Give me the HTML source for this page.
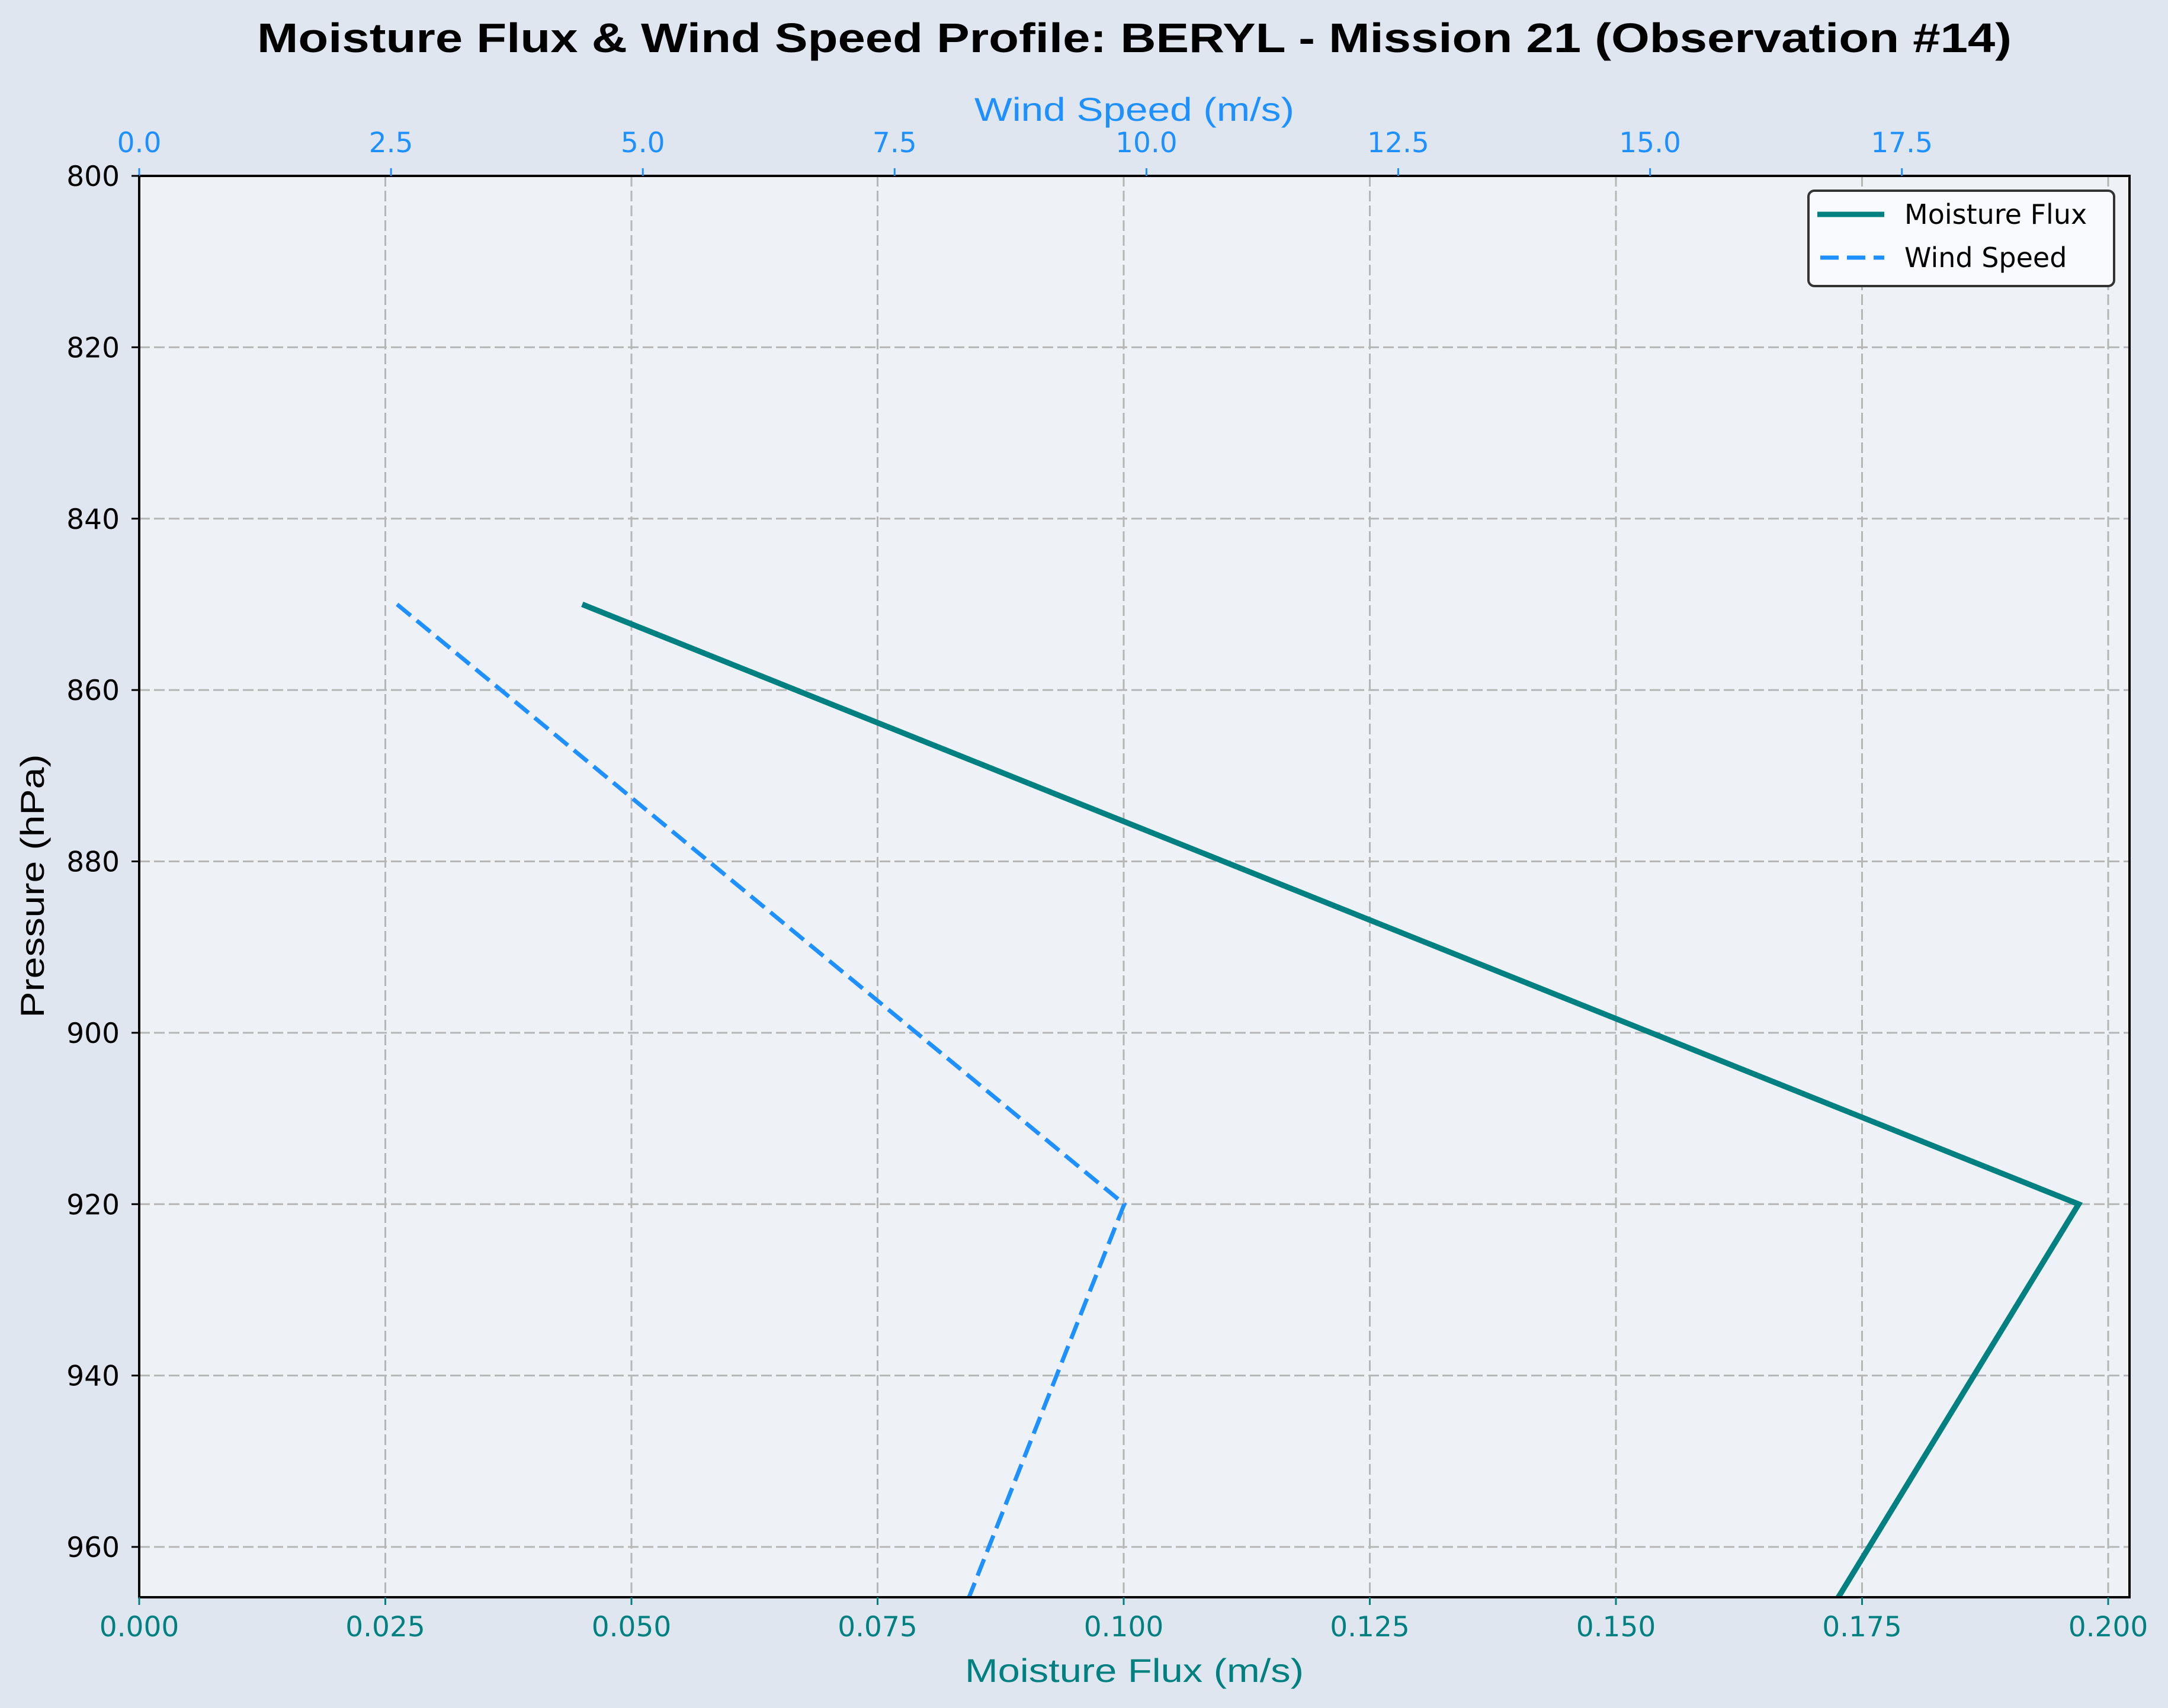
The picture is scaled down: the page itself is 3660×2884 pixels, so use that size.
<!DOCTYPE html>
<html><head><meta charset="utf-8"><style>
html,body{margin:0;padding:0;background:#dfe6f0;}
svg{display:block;}
.dv{font-family:"DejaVu Sans","Liberation Sans",sans-serif;}
.ls{font-family:"Liberation Sans",Arial,sans-serif;}
</style></head><body>
<svg id="chart" width="3660" height="2884" viewBox="0 0 3660 2884" xmlns="http://www.w3.org/2000/svg">
<rect x="0" y="0" width="3660" height="2884" fill="#dfe6f0"/>
<rect x="235" y="297" width="3360" height="2400" fill="#eef2f7"/>
<g id="grid"></g>
<g id="series"></g>
<rect x="235" y="297" width="3360" height="2400" fill="none" stroke="#000" stroke-width="4"/>
<g id="ticks"></g>
<text class="ls" x="1915" y="88" text-anchor="middle" font-weight="bold" font-size="70" textLength="2962" lengthAdjust="spacingAndGlyphs">Moisture Flux &amp; Wind Speed Profile: BERYL - Mission 21 (Observation #14)</text>
<text class="ls" x="1915" y="204" text-anchor="middle" font-size="56" fill="#1e90ff" textLength="540" lengthAdjust="spacingAndGlyphs">Wind Speed (m/s)</text>
<text class="ls" x="1915" y="2840" text-anchor="middle" font-size="56" fill="#008080" textLength="572" lengthAdjust="spacingAndGlyphs">Moisture Flux (m/s)</text>
<text class="ls" x="0" y="0" transform="translate(74,1496) rotate(-90)" text-anchor="middle" font-size="56" fill="#000" textLength="445" lengthAdjust="spacingAndGlyphs">Pressure (hPa)</text>
<g>
<rect x="3053" y="322" width="516" height="161" rx="10" fill="#f8fafd" stroke="#333" stroke-width="4"/>
<line x1="3068" y1="362" x2="3181" y2="362" stroke="#008080" stroke-width="9"/>
<text class="dv" x="3215" y="378" font-size="46">Moisture Flux</text>
<line x1="3073" y1="435" x2="3181" y2="435" stroke="#1e90ff" stroke-width="7" stroke-dasharray="31,14"/>
<text class="dv" x="3215" y="451" font-size="46">Wind Speed</text>
</g>
</svg>
<script>
const pressure = [850, 920, 970];
const moistureFlux = [0.045, 0.197, 0.1704];
const windSpeed = [2.56, 9.78, 8.1];
const fluxTicks = [0, 0.025, 0.05, 0.075, 0.1, 0.125, 0.15, 0.175, 0.2];
const fluxTickLabels = ["0.000","0.025","0.050","0.075","0.100","0.125","0.150","0.175","0.200"];
const windTicks = [0, 2.5, 5, 7.5, 10, 12.5, 15, 17.5];
const windTickLabels = ["0.0","2.5","5.0","7.5","10.0","12.5","15.0","17.5"];
const pTicks = [800, 820, 840, 860, 880, 900, 920, 940, 960];

const L=235, R=3595, T=297, B=2697;
const fluxMax = 0.2 * (R-L)/(3559-L);
const windMax = 19.76;
const pMin = 800, pMax = 800 + (B-T)/((2612-T)/160);
function xF(v){return L + v/fluxMax*(R-L);}
function xW(v){return L + v/windMax*(R-L);}
function yP(p){return T + (p-pMin)/(pMax-pMin)*(B-T);}
const NS="http://www.w3.org/2000/svg";
function mk(tag, attrs, parent, txt){const e=document.createElementNS(NS,tag);for(const k in attrs)e.setAttribute(k,attrs[k]);if(txt!==undefined)e.textContent=txt;parent.appendChild(e);return e;}
const svg=document.getElementById('chart');
const grid=document.getElementById('grid'), ticks=document.getElementById('ticks'), series=document.getElementById('series');
fluxTicks.forEach((v,i)=>{
  const x=xF(v);
  const g=mk('line',{x1:x,y1:T,x2:x,y2:B,stroke:'#b6b6b6','stroke-width':3,'stroke-dasharray':'18,7'},grid);
  
  
  const t=mk('line',{x1:x,y1:B,x2:x,y2:B+13,stroke:'#008080','stroke-width':3},ticks);
  
  
  const l=mk('text',{class:'dv',x:x,y:2763,'text-anchor':'middle','font-size':47,fill:'#008080'},ticks,fluxTickLabels[i]);
  
  
});
windTicks.forEach((v,i)=>{
  const x=xW(v);
  const t=mk('line',{x1:x,y1:T,x2:x,y2:T-13,stroke:'#1e90ff','stroke-width':3},ticks);
  
  
  const l=mk('text',{class:'dv',x:x,y:257,'text-anchor':'middle','font-size':47,fill:'#1e90ff'},ticks,windTickLabels[i]);
  
  
});
pTicks.forEach(p=>{
  const y=yP(p);
  const g=mk('line',{x1:L,y1:y,x2:R,y2:y,stroke:'#b6b6b6','stroke-width':3,'stroke-dasharray':'18,7'},grid);
  
  
  const t=mk('line',{x1:L,y1:y,x2:L-13,y2:y,stroke:'#000','stroke-width':3},ticks);
  
  
  const l=mk('text',{class:'dv',x:202,y:y+17,'text-anchor':'end','font-size':47,fill:'#000'},ticks,String(p));
  
  
});
const defs=mk('defs',{},svg);
const cp=mk('clipPath',{id:'clip'},defs);
mk('rect',{x:L,y:T,width:R-L,height:B-T},cp);
series.setAttribute('clip-path','url(#clip)');
const wpts=pressure.map((p,i)=>xW(windSpeed[i])+','+yP(p)).join(' ');
const wl=mk('polyline',{points:wpts,fill:'none',stroke:'#1e90ff','stroke-width':7,'stroke-dasharray':'30,13'},series);


const mpts=pressure.map((p,i)=>xF(moistureFlux[i])+','+yP(p)).join(' ');
const ml=mk('polyline',{points:mpts,fill:'none',stroke:'#008080','stroke-width':9.5,'stroke-linejoin':'miter'},series);


</script>
</body></html>
